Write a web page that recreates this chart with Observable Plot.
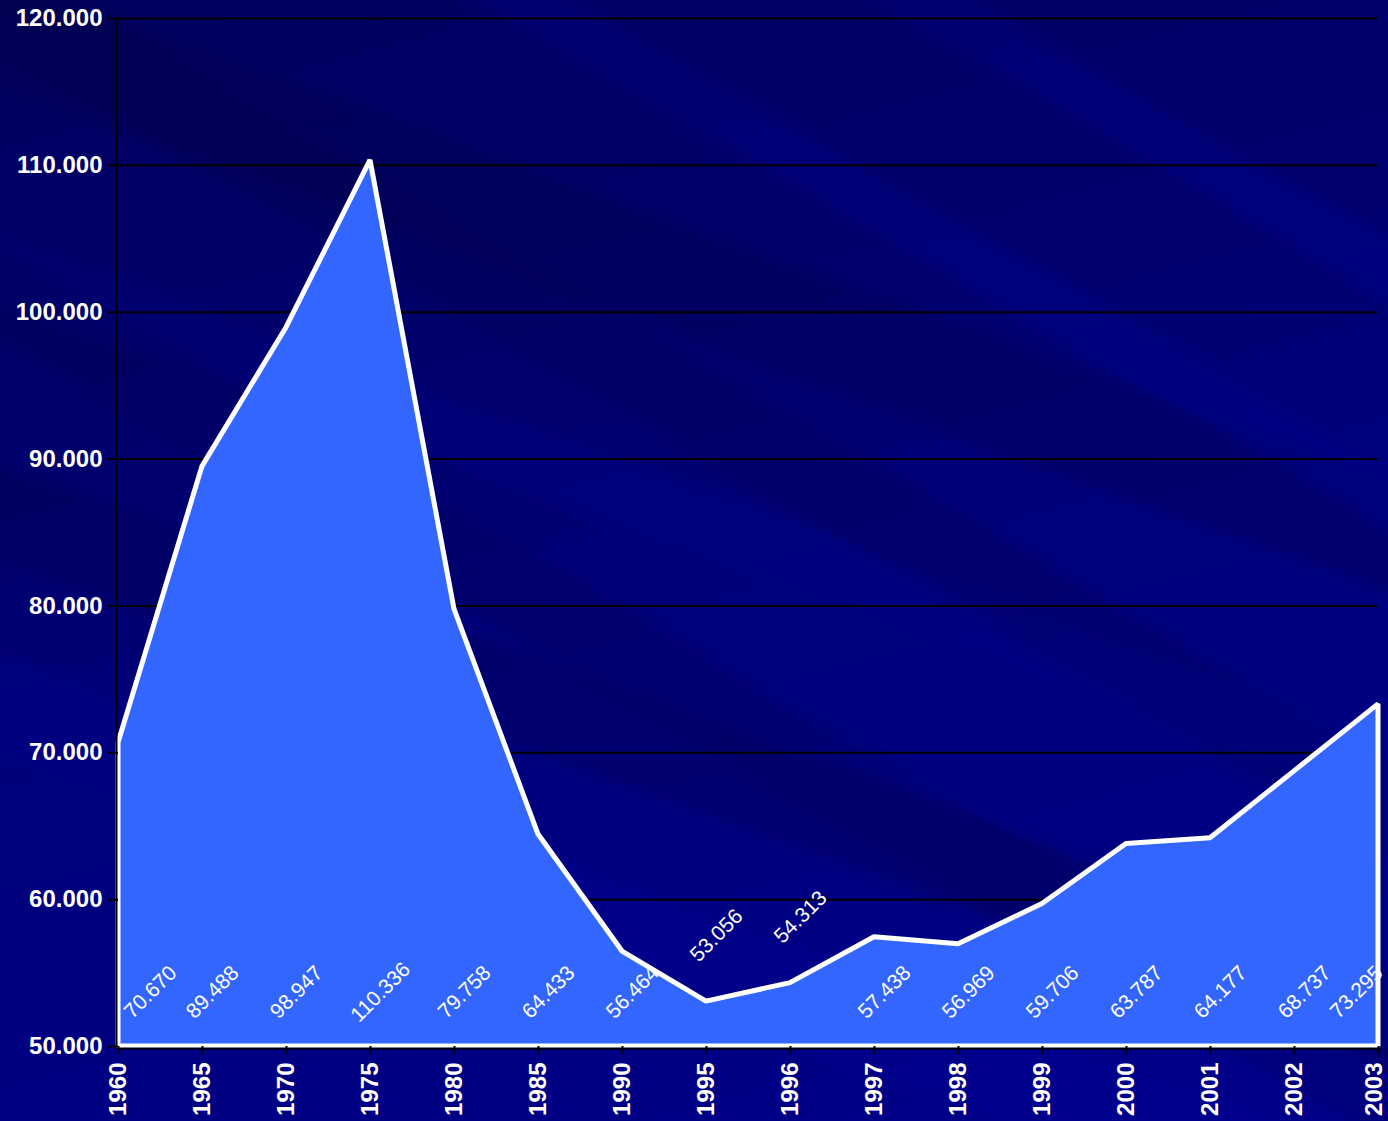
<!DOCTYPE html>
<html><head><meta charset="utf-8">
<script src="https://cdn.jsdelivr.net/npm/d3@7"></script>
<script src="https://cdn.jsdelivr.net/npm/@observablehq/plot@0.6"></script>
<style>
html,body{margin:0;padding:0;}
body{width:1388px;height:1121px;overflow:hidden;
background:
 linear-gradient(30deg, rgba(0,0,0,0) 0%, rgba(0,0,0,0) 40%, rgba(0,0,60,0.15) 41%, rgba(0,0,60,0.15) 45%, rgba(0,0,0,0) 46%, rgba(0,0,0,0) 55%, rgba(0,0,60,0.18) 56%, rgba(0,0,60,0.18) 60%, rgba(0,0,0,0) 61%, rgba(0,0,0,0) 72%, rgba(0,0,170,0.2) 73%, rgba(0,0,170,0.2) 75%, rgba(0,0,0,0) 76%, rgba(0,0,0,0) 84%, rgba(0,0,170,0.2) 85%, rgba(0,0,170,0.2) 87%, rgba(0,0,0,0) 88%),
 linear-gradient(20deg, rgba(0,0,0,0) 0%, rgba(0,0,0,0) 22%, rgba(0,0,160,0.2) 23%, rgba(0,0,160,0.2) 28%, rgba(0,0,0,0) 29%, rgba(0,0,0,0) 34%, rgba(0,0,50,0.18) 35%, rgba(0,0,50,0.18) 40%, rgba(0,0,0,0) 41%, rgba(0,0,0,0) 50%, rgba(0,0,150,0.18) 51%, rgba(0,0,150,0.18) 54%, rgba(0,0,0,0) 55%, rgba(0,0,0,0) 63%, rgba(0,0,50,0.18) 64%, rgba(0,0,50,0.18) 70%, rgba(0,0,0,0) 71%),
 linear-gradient(165deg, #000060 0%, #00006c 30%, #00007e 60%, #00008a 100%);
}
#chart{position:absolute;left:0;top:0;width:1388px;height:1121px;}
#chart svg{max-width:none;}
</style>
</head><body>
<div id="chart"></div>
<script>
const years = ["1960","1965","1970","1975","1980","1985","1990","1995","1996","1997","1998","1999","2000","2001","2002","2003"];
const values = [70670,89488,98947,110336,79758,64433,56464,53056,54313,57438,56969,59706,63787,64177,68737,73295];
const yTicks = [50000,60000,70000,80000,90000,100000,110000,120000];

const loc = d3.formatLocale({decimal: ",", thousands: ".", grouping: [3], currency: ["", ""]});
const fmt3 = v => loc.format(",")(v);
const data = years.map((y, i) => ({year: y, value: values[i]}));
// labels sit near the bottom unless the area is too low there
const labels = data.map(d => ({...d, ly: d.value < 55000 ? d.value + 4500 : 53700}));
const lblOpts = {x: "year", y: "ly", text: d => fmt3(d.value), rotate: -45, fill: "white", fontSize: 21, textAnchor: "middle"};

const chart = Plot.plot({
  width: 1388,
  height: 1121,
  marginLeft: 118,
  marginRight: 10,
  marginTop: 18,
  marginBottom: 75,
  style: {background: "transparent", fontFamily: "'Liberation Sans', Arial, sans-serif", color: "black", overflow: "visible"},
  x: {type: "point", domain: years, padding: 0},
  y: {domain: [50000, 120000]},
  marks: [
    Plot.ruleY(yTicks, {stroke: "black", strokeWidth: 2}),
    Plot.areaY(data, {x: "year", y1: 50000, y2: "value", fill: "#3366ff", stroke: "white", strokeWidth: 5, strokeLinejoin: "miter"}),
    Plot.ruleY([50000], {stroke: "black", strokeWidth: 2, dy: 2}),
    Plot.ruleX(["1960"], {stroke: "black", strokeWidth: 2, dx: -2}),
    Plot.axisY({ticks: yTicks, tickFormat: fmt3, tickSize: 10, tickPadding: 6, stroke: "black", strokeWidth: 2, fill: "white", fontSize: 24, fontWeight: "bold", label: null}),
    Plot.axisX({tickSize: 8, text: null, stroke: "black", strokeWidth: 2, label: null}),
    Plot.axisX(years.slice(0, -1), {tickSize: 0, tickPadding: 16, tickRotate: -90, fill: "white", fontSize: 24, fontWeight: "bold", label: null}),
    Plot.axisX(years.slice(-1), {tickSize: 0, tickPadding: 16, tickRotate: -90, dx: -4, fill: "white", fontSize: 24, fontWeight: "bold", label: null}),
    Plot.text(labels.slice(0, 1), {...lblOpts, dx: 32}),
    Plot.text(labels.slice(1, -1), {...lblOpts, dx: 10}),
    Plot.text(labels.slice(-1), {...lblOpts, dx: -22})
  ]
});
document.getElementById("chart").appendChild(chart);
</script>
</body></html>
